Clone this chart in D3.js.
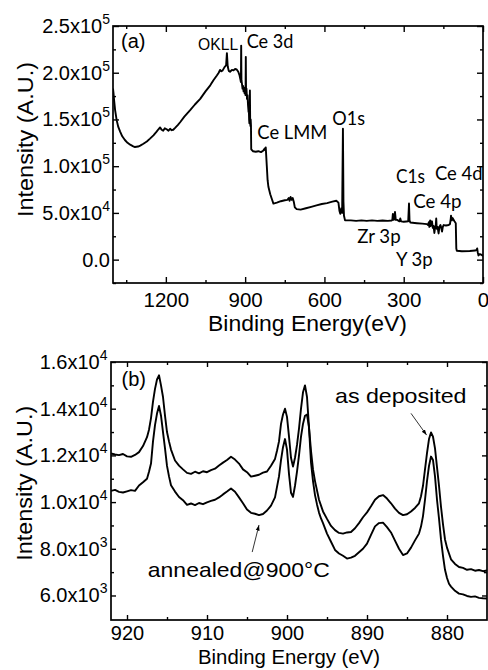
<!DOCTYPE html>
<html><head><meta charset="utf-8">
<script src="https://cdn.jsdelivr.net/npm/d3@7"></script>
<style>body{margin:0;background:#fff}svg{display:block}</style>
</head><body>
<svg id="chart" width="488" height="670"></svg>
<script>
// ---------- Panel (a): XPS survey ----------
const surveyEnergy = [1400,1398,1396,1392,1386,1380,1373,1365,1355,1345,1335,1325,1317,1305,1297,1285,1272,1260,1247,1235,1228,1222,1216,1210,1204,1197,1190,1184,1178,1172,1165,1155,1146,1130,1108,1090,1070,1050,1032,1020,1007,1000,995,990,985,978,972,969,966,962,957,950,944,938,932,926,921,918,916,915,914,912,910,908,906,904,902,900,898.5,897.5,896.5,895,893,891,889,887,886,885,884,883,882,881,880,879,878,877,870,860,850,840,832,826,824,822,818,815,812,805,798,793,780,765,750,740,735,732,728,724,720,716,712,705,690,670,650,630,610,590,570,555,547,543,540,536,533,530,528,526,522,500,480,460,440,420,400,380,360,346,343,341,339,336,333,330,325,316,313,310,300,290,283,280,278,275,250,230,212,208,205,203,200,198,195,193,190,187,184,181,179,177,175,172,168,165,161,158,155,152,149,140,130,125,122,121,118,115,112,108,103,101,99,80,50,30,24,22,20,17,12,5,0];
const surveyIntensity = [183000,178000,171000,160000,149000,142000,137000,132000,128000,125000,123000,121500,120500,121000,122000,124000,126500,129500,133000,137000,139500,141500,139000,138000,140500,139500,138000,140000,138500,139000,141000,144000,147000,153000,160000,166000,172000,180000,186500,192000,197000,200000,203000,201500,202500,206000,208000,221000,207000,202000,201000,203000,202500,204000,203500,201000,197000,193000,190000,229000,192000,188000,183000,186000,180000,184000,178000,183000,176000,217000,178000,183000,172000,176000,165000,158000,162000,150000,146000,155000,181000,148000,143000,150000,144000,118000,116000,115500,116000,115000,116500,119000,117000,120000,100000,85000,78000,70000,64000,60000,61000,62500,63500,64000,66000,63000,67000,64000,66000,62000,56000,54000,53500,55000,56500,58000,59500,60500,62000,63000,61000,52000,49000,55000,50000,140000,62000,47000,42000,42000,41500,42000,41500,42000,41500,41800,41500,41800,42500,49000,42500,43000,51000,42500,42500,41000,44000,41000,40500,40800,41000,60000,42000,39700,39000,38500,38000,37000,40000,35000,42000,36000,38000,41000,34000,36000,28500,35000,36000,44000,33000,35000,28000,35000,37000,34000,30000,35000,37000,36500,37000,38000,44000,47000,42000,44500,43000,41000,39000,12000,9500,9000,9300,9700,10500,12000,8000,4500,6000,5000,4000];
const surveyXTicks = [1200, 900, 600, 300, 0];
const surveyXMinorTicks = [1350, 1050, 750, 450, 150];
const surveyYTicks = [0, 50000, 100000, 150000, 200000, 250000];
const surveyYTickLabels = ["0.0", "5.0x10^4", "1.0x10^5", "1.5x10^5", "2.0x10^5", "2.5x10^5"];
const surveyYMinorTicks = [-25000, 25000, 75000, 125000, 175000, 225000];
const surveyPeakLabels = ["OKLL", "Ce 3d", "Ce LMM", "O1s", "C1s", "Ce 4d", "Ce 4p", "Zr 3p", "Y 3p"];
const surveyPeakLabelEnergy = [1078, 894, 854, 570, 329, 182, 264, 476, 329];
const surveyPeakLabelIntensity = [223800, 226500, 129600, 144000, 82000, 85200, 55200, 17800, -6300];

// ---------- Panel (b): Ce 3d region ----------
const ce3dEnergy = [922,921.5,921,920.5,920,919.5,919,918.5,918,917.5,917.25,917,916.75,916.5,916.25,916,915.75,915.5,915.25,915,914.75,914.5,914,913.5,913,912.5,912,911.5,911,910.5,910,909.5,909,908.5,908,907.5,907,906.5,906,905.5,905,904.5,904,903.5,903,902.5,902,901.5,901.25,901,900.75,900.5,900.25,900,899.75,899.5,899.25,899,898.75,898.5,898.25,898,897.75,897.5,897.25,897,896.75,896.5,896.25,896,895.75,895.5,895,894.5,894,893.5,893,892.5,892,891.5,891,890.5,890,889.5,889,888.5,888,887.5,887,886.5,886,885.5,885,884.5,884,883.5,883.25,883,882.75,882.5,882.25,882,881.75,881.5,881.25,881,880.75,880.5,880.25,880,879.75,879.5,879,878.5,878,877.5,877,876.5,876,875.5,875];
const asDeposited = [12080,12040,12010,12060,11960,11940,12020,12140,12400,12780,13100,13600,14300,14850,15250,15430,15000,14500,13700,13000,12600,12250,11780,11560,11400,11250,11210,11300,11230,11320,11280,11370,11430,11570,11690,11800,11940,11820,11650,11400,11280,11090,11130,11170,11260,11310,11560,11850,12200,12600,13350,13750,14000,13650,12800,11900,11520,11900,12450,13150,14000,14700,15000,14500,13200,12200,11400,10900,10500,10100,9850,9600,9280,8980,8800,8680,8650,8700,8720,8880,9100,9350,9560,9820,10100,10250,10300,10150,9950,9720,9540,9440,9480,9600,9750,9950,10250,10700,11400,12100,12700,12980,12800,12300,11500,10700,9800,9050,8400,8050,7800,7550,7350,7220,7180,7100,7130,7060,7090,7040,7070];
const annealed = [10480,10520,10440,10410,10460,10510,10480,10710,10850,11000,11300,11650,12600,13300,13790,14120,13700,13000,12300,11550,11100,10720,10450,10220,10080,9880,9940,9870,9960,9910,9990,10050,10100,10200,10330,10450,10580,10440,10200,9950,9680,9540,9500,9440,9490,9640,9850,10200,10650,11100,11800,12350,12700,12250,11200,10400,10220,10700,11300,12000,12800,13350,13700,13750,13200,11700,10900,10300,9900,9550,9300,9100,8650,8300,7950,7800,7700,7580,7620,7700,7850,8000,8220,8600,8960,9100,9120,8930,8700,8350,8000,7730,7800,8050,8360,8650,8950,9400,10100,10900,11550,11950,11800,11100,10100,9300,8400,7700,7100,6750,6500,6380,6200,6080,6050,5980,5940,5960,5900,5880,5870];
const ce3dXTicks = [920, 910, 900, 890, 880];
const ce3dXMinorTicks = [915, 905, 895, 885];
const ce3dYTicks = [6000, 8000, 10000, 12000, 14000, 16000];
const ce3dYTickLabels = ["6.0x10^3", "8.0x10^3", "1.0x10^4", "1.2x10^4", "1.4x10^4", "1.6x10^4"];
const ce3dYMinorTicks = [7000, 9000, 11000, 13000, 15000];
const ce3dLabels = ["as deposited", "annealed@900°C"];
const ce3dLabelEnergy = [894, 917.4];
const ce3dLabelIntensity = [14240, 6790];
const ce3dArrowFromEnergy = [884.5, 904.35];
const ce3dArrowFromIntensity = [13800, 7860];
const ce3dArrowToEnergy = [882.55, 903.5];
const ce3dArrowToIntensity = [12870, 9020];

// ---------- drawing ----------
const svg = d3.select("#chart");
const ARIAL = "'Liberation Sans', Arial, sans-serif";
const CAL = "Lato, 'Open Sans', sans-serif";

svg.append("defs").append("marker")
  .attr("id", "arr").attr("viewBox", "0 0 10 10").attr("refX", 10).attr("refY", 5)
  .attr("markerWidth", 7).attr("markerHeight", 7).attr("orient", "auto")
  .append("path").attr("d", "M0,1.5L10,5L0,8.5z").attr("fill", "#000");

function supLabel(sel, labels, supDy) {
  sel.selectAll(".tick text").each(function(d, i) {
    const parts = labels[i].split("^");
    const t = d3.select(this).text(parts[0]);
    if (parts[1]) t.append("tspan").attr("dy", supDy).attr("font-size", 14).text(parts[1]);
  });
}

function panel(o) {
  const {x, y, L, R, T, B} = o;
  const g = svg.append("g");
  const clipId = "clip" + o.id;
  svg.select("defs").append("clipPath").attr("id", clipId)
    .append("rect").attr("x", L).attr("y", T).attr("width", R - L).attr("height", B - T);

  const ax = (gen, tr) => {
    const a = g.append("g").attr("transform", tr).call(gen);
    a.select(".domain").remove();
    a.selectAll(".tick line").attr("stroke", "#000").attr("stroke-width", 1.4);
    a.attr("font-family", ARIAL);
    return a;
  };
  const bx = ax(d3.axisBottom(x).tickValues(o.xTicks).tickSize(-o.maj).tickPadding(o.xPad).tickFormat(d3.format("d")), `translate(0,${B})`);
  bx.attr("font-size", o.xFont);
  bx.selectAll("text").attr("fill", "#000");
  ax(d3.axisBottom(x).tickValues(o.xMinor).tickSize(-3).tickFormat(""), `translate(0,${B})`);
  ax(d3.axisTop(x).tickValues(o.xTicks).tickSize(-o.maj).tickFormat(""), `translate(0,${T})`);
  ax(d3.axisTop(x).tickValues(o.xMinor).tickSize(-3).tickFormat(""), `translate(0,${T})`);
  const ly = ax(d3.axisLeft(y).tickValues(o.yTicks).tickSize(-o.maj).tickPadding(o.yPad), `translate(${L},0)`);
  ly.attr("font-size", 20);
  ly.selectAll("text").attr("fill", "#000");
  supLabel(ly, o.yLabels, -9);
  ax(d3.axisLeft(y).tickValues(o.yMinor).tickSize(-3).tickFormat(""), `translate(${L},0)`);
  ax(d3.axisRight(y).tickValues(o.yTicks).tickSize(-o.maj).tickFormat(""), `translate(${R},0)`);
  ax(d3.axisRight(y).tickValues(o.yMinor).tickSize(-3).tickFormat(""), `translate(${R},0)`);

  const line = d3.line().x(d => x(d[0])).y(d => y(d[1]));
  o.series.forEach(s => {
    g.append("path").attr("d", line(o.energy.map((e, i) => [e, s[i]])))
      .attr("fill", "none").attr("stroke", "#000").attr("stroke-width", 1.9)
      .attr("stroke-linejoin", "round").attr("clip-path", `url(#${clipId})`);
  });

  g.append("rect").attr("x", L).attr("y", T).attr("width", R - L).attr("height", B - T)
    .attr("fill", "none").attr("stroke", "#000").attr("stroke-width", 1.7);

  g.append("text").attr("x", L + o.letterDx).attr("y", T + o.letterDy)
    .attr("font-family", ARIAL).attr("font-size", 20).text(o.letter);

  g.append("text").attr("x", o.xTitlePos[0]).attr("y", o.xTitlePos[1])
    .attr("text-anchor", "middle").attr("font-family", ARIAL).attr("font-size", o.xTitleFont)
    .attr("textLength", o.xTitleLen).attr("lengthAdjust", "spacingAndGlyphs").text(o.xTitle);
  g.append("text").attr("transform", `translate(${o.yTitlePos[0]},${o.yTitlePos[1]}) rotate(-90)`)
    .attr("text-anchor", "middle").attr("font-family", ARIAL).attr("font-size", 22)
    .attr("textLength", 155).attr("lengthAdjust", "spacingAndGlyphs").text("Intensity (A.U.)");
  return g;
}

const xA = d3.scaleLinear().domain([1400, 0]).range([113, 483]);
const yA = d3.scaleLinear().domain([-25000, 250000]).range([283, 26]);
const gA = panel({id: "a", x: xA, y: yA, L: 113, R: 483, T: 26, B: 283, maj: 6,
  xTicks: surveyXTicks, xMinor: surveyXMinorTicks, xPad: 9, xFont: 20.5,
  yTicks: surveyYTicks, yLabels: surveyYTickLabels, yMinor: surveyYMinorTicks, yPad: 3,
  energy: surveyEnergy, series: [surveyIntensity],
  letter: "(a)", letterDx: 8, letterDy: 22,
  xTitle: "Binding Energy(eV)", xTitlePos: [307.5, 331], xTitleFont: 22, xTitleLen: 199,
  yTitlePos: [33, 139.5]});

const labelWidths = [40, 46.7, 70, 32.7, 29, 47.7, 48.4, 43.4, 36.7];
surveyPeakLabels.forEach((t, i) => {
  gA.append("text").attr("x", xA(surveyPeakLabelEnergy[i])).attr("y", yA(surveyPeakLabelIntensity[i]))
    .attr("font-family", i === 0 ? ARIAL : CAL).attr("font-size", i === 0 ? 16.5 : 18.5)
    .attr("textLength", labelWidths[i]).attr("lengthAdjust", "spacingAndGlyphs").text(t);
});

const xB = d3.scaleLinear().domain([922, 875]).range([111, 487]);
const yB = d3.scaleLinear().domain([4950, 16000]).range([620, 362]);
const gB = panel({id: "b", x: xB, y: yB, L: 111, R: 487, T: 362, B: 620, maj: 5,
  xTicks: ce3dXTicks, xMinor: ce3dXMinorTicks, xPad: 6, xFont: 20,
  yTicks: ce3dYTicks, yLabels: ce3dYTickLabels, yMinor: ce3dYMinorTicks, yPad: 3.5,
  energy: ce3dEnergy, series: [asDeposited, annealed],
  letter: "(b)", letterDx: 10.5, letterDy: 24,
  xTitle: "Binding Energy (eV)", xTitlePos: [289, 664], xTitleFont: 19.5, xTitleLen: 182,
  yTitlePos: [31.5, 483.3]});

const bWidths = [131.5, 182];
ce3dLabels.forEach((t, i) => {
  gB.append("text").attr("x", xB(ce3dLabelEnergy[i])).attr("y", yB(ce3dLabelIntensity[i]))
    .attr("font-family", ARIAL).attr("font-size", 21)
    .attr("textLength", bWidths[i]).attr("lengthAdjust", "spacingAndGlyphs").text(t);
  gB.append("line")
    .attr("x1", xB(ce3dArrowFromEnergy[i])).attr("y1", yB(ce3dArrowFromIntensity[i]))
    .attr("x2", xB(ce3dArrowToEnergy[i])).attr("y2", yB(ce3dArrowToIntensity[i]))
    .attr("stroke", "#000").attr("stroke-width", 0.8).attr("marker-end", "url(#arr)");
});
</script>
</body></html>
